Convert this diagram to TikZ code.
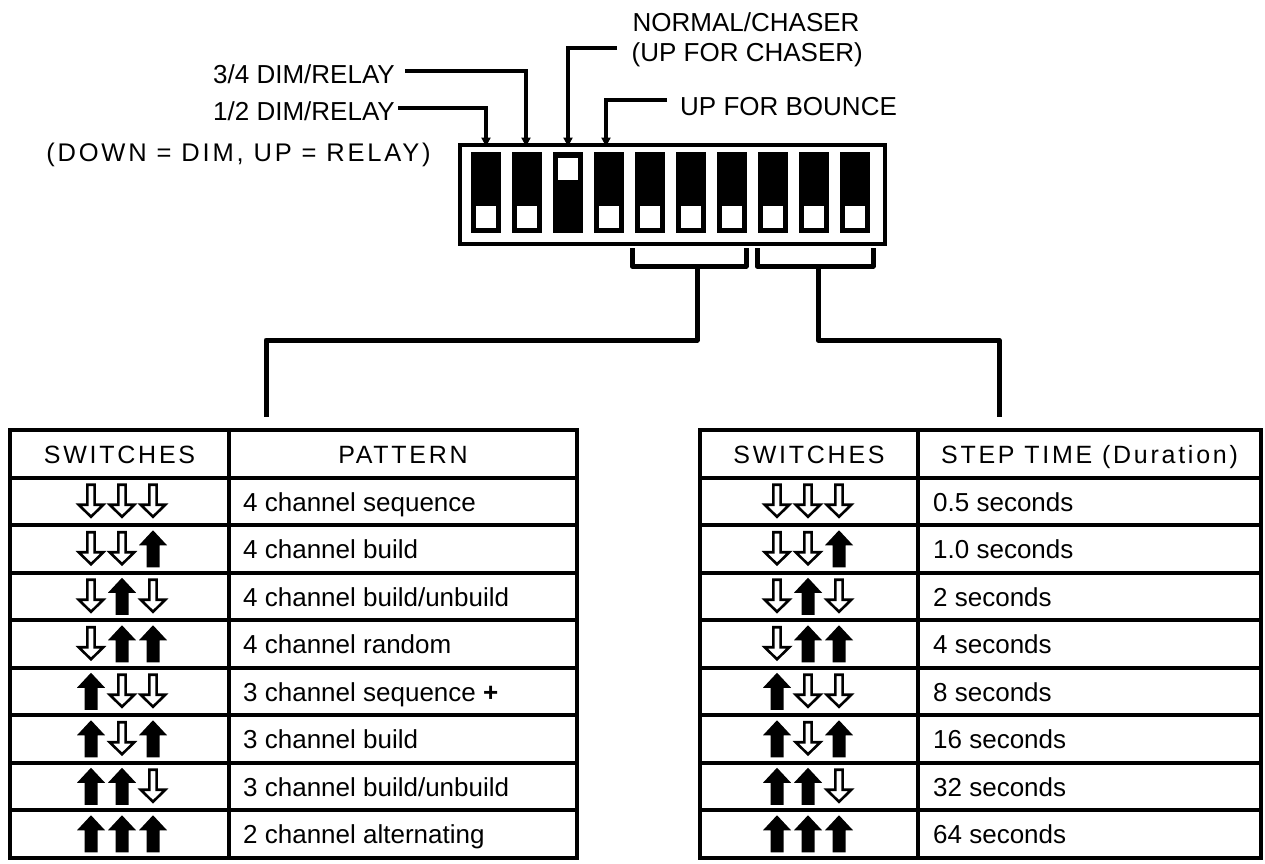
\documentclass[tikz,border=0pt]{standalone}
\usepackage{fontspec}
\setmainfont{Liberation Sans}
\newfontfamily\hdrfont[LetterSpace=11]{Liberation Sans}
\usetikzlibrary{arrows.meta}
\begin{document}
\begin{tikzpicture}[x=1pt,y=-1pt,
  lbl/.style={inner sep=0pt,font=\fontsize{26}{30}\selectfont},
  hdr/.style={inner sep=0pt,anchor=base,font=\hdrfont\fontsize{25}{30}\selectfont},
  cell/.style={inner sep=0pt,anchor=base west,font=\fontsize{26}{30}\selectfont},
  lead/.style={line width=4pt,-{Triangle[width=9pt,length=9pt]}},
  conn/.style={line width=5pt,line join=round},
  grid/.style={line width=4pt},
  swbox/.style={fill=black,inner sep=0pt,minimum width=30pt,minimum height=81pt,anchor=north west},
  knob/.style={fill=white,inner sep=0pt,minimum width=20pt,minimum height=22pt,anchor=north west},
  arrdn/.pic={\draw[line width=2.6pt,fill=white] (-3.6,-16.5) -- (3.6,-16.5) -- (3.6,3.5) -- (12.3,3.5) -- (0,15.5) -- (-12.3,3.5) -- (-3.6,3.5) -- cycle;},
  arrup/.pic={\fill (0,-18.5) -- (14,-3.5) -- (6.5,-3.5) -- (6.5,18.5) -- (-6.5,18.5) -- (-6.5,-3.5) -- (-14,-3.5) -- cycle;}
]
\useasboundingbox (0,0) rectangle (1265,863);

% DIP switch body
\node[draw,line width=4pt,inner sep=0pt,minimum width=425pt,minimum height=99pt,anchor=north west] (dip) at (458,143) {};
\foreach \i in {0,...,9}{
  \node[swbox] (s\i) at ({471+40.95*\i},152) {};
}
\foreach \i in {0,1,3,4,5,6,7,8,9}{
  \node[knob] (k\i) at ({476+40.95*\i},206) {};
}
\node[knob] (k2) at ({475.5+40.95*2},158) {};

% labels
\node[lbl,anchor=base east] (l34) at (395,83.5) {3/4 DIM/RELAY};
\node[lbl,anchor=base east] (l12) at (395,120) {1/2 DIM/RELAY};
\node[hdr,font=\hdrfont\fontsize{25.5}{30}\selectfont] (ldim) at (238.5,161.7) {(DOWN = DIM, UP = RELAY)};
\node[lbl,anchor=base west] (lnc) at (632.5,31.7) {NORMAL/CHASER};
\node[lbl,anchor=base west] (lnc2) at (631.5,61.7) {(UP FOR CHASER)};
\node[lbl,anchor=base west] (lbo) at (680,115) {UP FOR BOUNCE};

\coordinate (a34) at (405,71);
\coordinate (a12) at (398,108);
\coordinate (anc) at (617,48);
\coordinate (abo) at (667,100);
\coordinate (t0) at (486,146.5);
\coordinate (t1) at (526,146.5);
\coordinate (t2) at (568,146.5);
\coordinate (t3) at (606,146.5);
\draw[lead] (a12) -| (t0);
\draw[lead] (a34) -| (t1);
\draw[lead] (anc) -| (t2);
\draw[lead] (abo) -| (t3);

% brackets and connectors
\coordinate (bLa) at (632,248);
\coordinate (bLb) at (746,248);
\coordinate (bLm) at (697,266);
\coordinate (bRa) at (757,248);
\coordinate (bRb) at (873,248);
\coordinate (bRm) at (818,266);
\coordinate (stL) at (266,417);
\coordinate (stR) at (999,417);
\draw[conn] (bLa) -- (bLa |- bLm) -- (bLb |- bLm) -- (bLb);
\draw[conn] (bRa) -- (bRa |- bRm) -- (bRb |- bRm) -- (bRb);
\draw[conn] (bLm) -- ++(0,74) -| (stL);
\draw[conn] (bRm) -- ++(0,74) -| (stR);

% tables
\foreach \xa/\xm/\xb in {10/229/577, 700/918/1261}{
  \draw[grid] (\xa,430) rectangle (\xb,857.5);
  \draw[grid] (\xm,430) -- (\xm,857.5);
  \foreach \k in {1,...,8}{
    \draw[grid] (\xa,{430+47.5*\k}) -- (\xb,{430+47.5*\k});
  }
}
\node[hdr] (hL1) at (119.5,463.5) {SWITCHES};
\node[hdr] (hL2) at (403,463.5) {PATTERN};
\node[hdr] (hR1) at (809,463.5) {SWITCHES};
\node[hdr] (hR2) at (1089.5,463.5) {STEP TIME (Duration)};

\foreach \k/\pl/\pr in {1/4 channel sequence/0.5 seconds,
                        2/4 channel build/1.0 seconds,
                        3/4 channel build\slash unbuild/2 seconds,
                        4/4 channel random/4 seconds,
                        5/3 channel sequence \textbf{+}/8 seconds,
                        6/3 channel build/16 seconds,
                        7/3 channel build\slash unbuild/32 seconds,
                        8/2 channel alternating/64 seconds}{
  \node[cell] (pL\k) at (243,{453.75+47.5*\k+10}) {\pl};
  \node[cell] (pR\k) at (933,{453.75+47.5*\k+10}) {\pr};
}

% switch arrows
\foreach \k/\a/\b/\c in {1/dn/dn/dn,2/dn/dn/up,3/dn/up/dn,4/dn/up/up,5/up/dn/dn,6/up/dn/up,7/up/up/dn,8/up/up/up}{
  \foreach \cx in {122,808}{
    \pic at ({\cx-31},{453.75+47.5*\k}) {arr\a};
    \pic at ({\cx},{453.75+47.5*\k}) {arr\b};
    \pic at ({\cx+31},{453.75+47.5*\k}) {arr\c};
  }
}
\end{tikzpicture}
\end{document}
